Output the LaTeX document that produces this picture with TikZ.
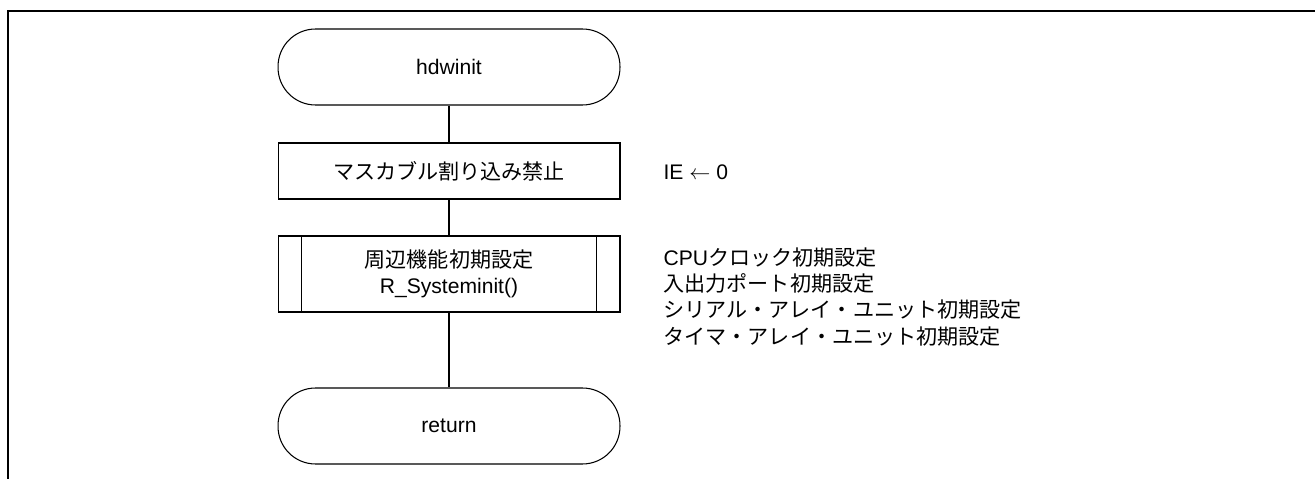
\documentclass[tikz,border=0pt]{standalone}
\usepackage{fontspec}
\setmainfont{Liberation Sans}
\newfontfamily\jp{Noto Sans CJK JP}
\begin{document}
\begin{tikzpicture}[x=0.02cm,y=-0.02cm,
    font=\fontsize{12}{14.6}\selectfont,
    line width=0.6pt,
    terminal/.style={draw, rectangle, rounded corners=0.75cm, minimum width=6.84cm, minimum height=1.52cm, inner sep=0pt},
    process/.style={draw, rectangle, minimum width=6.84cm, minimum height=1.12cm, inner sep=0pt},
    subproc/.style={draw, rectangle, minimum width=6.84cm, minimum height=1.52cm, inner sep=0pt, align=center},
    note/.style={inner sep=0pt, align=left}]
    \useasboundingbox (0,0) rectangle (1315,479);

    % Draw frame
    \draw[line width=1.2pt] (8,479) -- (8,11) -- (1315,11);

    % Draw flow
    \node[terminal] (start) at (449,67) {hdwinit};
    \node[process] (mask) at (449,171) {\jp マスカブル割り込み禁止};
    \node[subproc] (periph) at (449,274) {{\jp 周辺機能初期設定}\\R\_Systeminit()};
    \node[terminal] (ret) at (449,426) {return};

    % Side bars of the subroutine box
    \draw ([xshift=0.48cm]periph.north west) -- ([xshift=0.48cm]periph.south west);
    \draw ([xshift=-0.48cm]periph.north east) -- ([xshift=-0.48cm]periph.south east);

    % Connect
    \draw (start) -- (mask);
    \draw (mask) -- (periph);
    \draw (periph) -- (ret);

    % Notes
    \node[note, anchor=west] (ienote) at (663,172) {IE $\leftarrow$ 0};
    \node[note, anchor=north west, font=\fontsize{12}{15}\selectfont] (initnote) at (663,247)
        {CPU{\jp クロック初期設定}\\{\jp 入出力ポート初期設定}\\{\jp シリアル・アレイ・ユニット初期設定}\\{\jp タイマ・アレイ・ユニット初期設定}};
\end{tikzpicture}
\end{document}
